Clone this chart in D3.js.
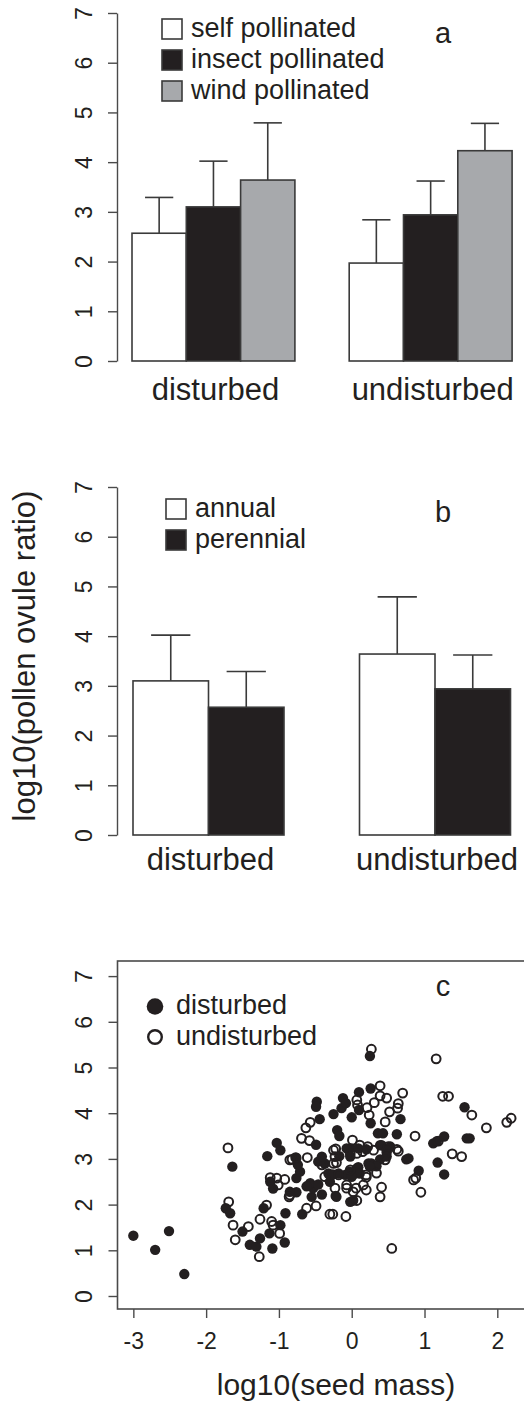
<!DOCTYPE html>
<html>
<head>
<meta charset="utf-8">
<script src="https://cdn.jsdelivr.net/npm/d3@7"></script>
<style>
  body { margin: 0; background: #fff; }
  svg { display: block; font-family: "Liberation Sans", Arial, Helvetica, sans-serif; }
  .axis path, .axis line { stroke: #4a4a4a; stroke-width: 1.4; }
  .axis text { fill: #231f20; font-size: 23px; font-family: "Liberation Sans", Arial, sans-serif; }
</style>
</head>
<body>
<div id="chart"></div>
<script>
// data
var groups = ["disturbed", "undisturbed"]
var pollSeries = ["self pollinated", "insect pollinated", "wind pollinated"]
var pollColors = ["#ffffff", "#231f20", "#a7a9ac"]
var pollMeans = [[2.57, 3.10, 3.64], [1.97, 2.94, 4.23]]
var pollUpper = [[3.29, 4.02, 4.79], [2.84, 3.62, 4.78]]

var lifeSeries = ["annual", "perennial"]
var lifeColors = ["#ffffff", "#231f20"]
var lifeMeans = [[3.10, 2.57], [3.64, 2.94]]
var lifeUpper = [[4.02, 3.29], [4.79, 3.62]]

var yTicks = [0, 1, 2, 3, 4, 5, 6, 7]
var seedTicks = [-3, -2, -1, 0, 1, 2]

var disturbedPts = [
  [-3.00,1.32],[-2.70,1.01],[-2.51,1.42],[-2.30,0.48],
  [-1.64,2.83],[-1.73,1.92],[-1.67,1.81],[-1.50,1.41],[-1.40,1.12],[-1.31,1.08],[-1.26,1.26],
  [-1.21,1.92],[-1.13,1.37],[-1.09,1.04],[-0.98,1.55],[-0.92,1.17],[-0.91,1.81],[-0.68,1.79],
  [-1.16,3.06],[-1.03,3.35],[-0.98,3.19],[-1.12,2.50],[-1.08,2.35],
  [-0.85,2.28],[-0.76,2.27],[-0.76,2.58],[-0.71,2.72],[-0.74,2.87],[-0.76,3.02],
  [-0.41,2.22],[-0.55,2.17],[-0.53,2.36],[-0.57,2.47],[-0.46,2.44],[-0.30,2.50],[-0.32,2.68],
  [-0.26,2.66],[-0.22,2.19],[-0.02,2.06],[0.02,2.09],[-0.01,2.65],[0.04,2.68],[-0.03,2.72],
  [0.09,2.82],[0.39,2.99],[0.48,3.14],[0.27,2.90],[0.34,2.84],[0.23,2.90],
  [0.75,2.99],[0.92,2.74],[1.18,2.92],[1.27,2.66],
  [0.25,5.25],[0.26,4.54],[0.10,4.46],[-0.12,4.33],[-0.14,4.11],[-0.48,4.25],[-0.49,4.14],
  [-0.44,3.87],[-0.25,3.98],[0.00,3.91],[0.10,4.07],[0.26,3.78],[0.67,3.87],[0.36,3.56],
  [0.43,3.56],[0.62,3.54],[-0.20,3.63],[-0.17,3.50],[-0.49,3.31],[0.39,3.30],[-0.02,3.23],
  [0.09,3.23],[-0.41,3.05],[-0.46,2.94],[-0.17,3.06],[1.12,3.34],[1.17,3.39],[1.27,3.49],
  [1.55,4.13],[1.58,3.45],[1.62,3.45],[0.78,3.01],[-0.08,4.22],
  [-0.07,3.23],[0.20,3.21],[0.41,3.30],[0.53,3.27],[0.48,3.19],[-0.02,3.05],[0.07,2.79],
  [0.25,2.83],[0.48,3.05],[-0.09,2.65],[0.11,2.68],[-0.37,2.90],[-0.18,2.68],
  [-0.62,2.40],[-0.21,2.17],[0.00,2.61]
]

var undisturbedPts = [
  [0.27,5.40],[1.16,5.19],[1.25,4.37],[1.33,4.37],[0.39,4.60],[0.70,4.44],[0.48,4.33],
  [0.39,4.38],[0.31,4.23],[0.07,4.29],[0.08,4.18],[0.64,4.21],[0.63,4.11],[0.52,4.03],
  [0.21,4.12],[0.24,3.96],[0.46,3.81],[1.65,3.96],[1.85,3.68],[2.13,3.80],[2.19,3.89],
  [-0.57,3.80],[-0.63,3.68],[-0.69,3.45],[-0.58,3.40],[0.87,3.50],[1.19,3.39],[0.01,3.41],
  [0.62,3.21],[0.50,3.27],[0.64,3.17],[1.38,3.11],[1.51,3.05],[-1.70,3.24],[-0.82,2.99],
  [-0.77,3.03],[-0.61,3.03],[-0.22,3.22],
  [0.11,3.30],[0.30,3.19],[0.22,3.27],[0.15,3.16],[0.07,3.12],[-0.02,3.11],[-0.02,2.76],
  [0.20,2.65],[0.34,2.69],[-0.25,3.19],[-0.23,3.05],[-0.21,2.92],[0.46,2.98],[-0.41,2.87],
  [-1.12,2.59],[-0.85,2.98],[-0.18,2.65],[-0.37,2.61],[-0.25,2.90],[-0.85,2.21],
  [-1.03,2.58],[-0.92,2.55],[-1.01,2.43],
  [-1.69,2.06],[-1.63,1.55],[-1.60,1.23],[-1.42,1.52],[-1.27,0.86],[-1.26,1.68],[-1.08,1.55],
  [-1.10,1.63],[-0.99,1.37],[-1.17,1.99],[-0.62,1.92],[-0.49,1.97],[-0.30,1.79],[-0.26,1.79],
  [-0.08,1.74],[-0.86,2.17],
  [0.55,1.04],[0.95,2.27],[0.85,2.54],[0.88,2.58],[0.39,2.17],[0.41,2.38],[0.20,2.32],
  [0.20,2.60],[0.07,2.09],[0.02,2.28],[0.06,2.36],[-0.07,2.43],[0.16,2.43],[-0.07,2.36],
  [-0.23,2.36]
]

var ink = "#231f20"
var edge = "#3a3a3a"
var plainNum = function(d) { return String(d) }   // hyphen minus, no decimals

var svg = d3.select("#chart")
            .append("svg")
            .attr("width", 524)
            .attr("height", 1406)

svg.append("rect").attr("width", 524).attr("height", 1406).attr("fill", "#fff")

// grouped bar panel, bar positions in R barplot units (space 1 between groups)
function barPanel(opts) {
    var n = opts.series.length
    var x = d3.scaleLinear().domain(opts.xDomain).range(opts.xRange)
    var y = d3.scaleLinear().domain([0, 7]).range(opts.yRange)

    var rows = []
    opts.means.forEach(function(gm, g) {
        gm.forEach(function(v, i) {
            rows.push({ left: 1 + g * (n + 1) + i, mean: v, upper: opts.upper[g][i], color: opts.colors[i] })
        })
    })

    var g = svg.append("g")

    // error bars first so bar tops sit over the stem
    g.selectAll(".err")
        .data(rows)
        .enter()
        .append("line")
        .attr("x1", function(d) { return x(d.left + 0.5) })
        .attr("x2", function(d) { return x(d.left + 0.5) })
        .attr("y1", function(d) { return y(d.mean) })
        .attr("y2", function(d) { return y(d.upper) })
        .attr("stroke", edge).attr("stroke-width", 1.6)

    g.selectAll(".cap")
        .data(rows)
        .enter()
        .append("line")
        .attr("x1", function(d) { return x(d.left + 0.5 - 0.26) })
        .attr("x2", function(d) { return x(d.left + 0.5 + 0.26) })
        .attr("y1", function(d) { return y(d.upper) })
        .attr("y2", function(d) { return y(d.upper) })
        .attr("stroke", edge).attr("stroke-width", 1.6)

    g.selectAll(".bar")
        .data(rows)
        .enter()
        .append("rect")
        .attr("x", function(d) { return x(d.left) })
        .attr("y", function(d) { return y(d.mean) })
        .attr("width", function(d) { return x(d.left + 1) - x(d.left) })
        .attr("height", function(d) { return y(0) - y(d.mean) })
        .attr("fill", function(d) { return d.color })
        .attr("stroke", edge).attr("stroke-width", 1.6)

    var ax = g.append("g")
        .attr("class", "axis")
        .attr("transform", "translate(117,0)")
        .call(d3.axisLeft(y).tickValues(yTicks).tickFormat(plainNum).tickSize(9).tickSizeOuter(0))
    ax.selectAll("text")
        .attr("transform", "rotate(-90)")
        .attr("x", 0).attr("y", -25).attr("dy", 0)
        .style("text-anchor", "middle")

    // group labels
    g.selectAll(".grp")
        .data(groups)
        .enter()
        .append("text")
        .attr("x", function(d, i) { return x(1 + i * (n + 1) + n / 2) + 2 })
        .attr("y", opts.labelY)
        .attr("text-anchor", "middle")
        .attr("font-size", 31)
        .attr("fill", ink)
        .text(function(d) { return d })

    // legend
    var lg = g.selectAll(".leg")
        .data(opts.series)
        .enter()
        .append("g")
        .attr("transform", function(d, i) { return "translate(" + opts.legX + "," + (opts.legY + i * 31) + ")" })
    lg.append("rect")
        .attr("x", 0).attr("y", 0).attr("width", 20).attr("height", 20)
        .attr("fill", function(d, i) { return opts.colors[i] })
        .attr("stroke", edge).attr("stroke-width", 1.6)
    lg.append("text")
        .attr("x", 29).attr("y", 18)
        .attr("font-size", 27)
        .attr("fill", ink)
        .text(function(d) { return d })

    g.append("text")
        .attr("x", 443).attr("y", opts.tagY)
        .attr("text-anchor", "middle")
        .attr("font-size", 29)
        .attr("fill", ink)
        .text(opts.tag)
}

barPanel({
    series: pollSeries, colors: pollColors, means: pollMeans, upper: pollUpper,
    xDomain: [0.72, 8.28], xRange: [116.8, 527.3], yRange: [361, 13],
    labelY: 400, legX: 162, legY: 19, tagY: 43, tag: "a"
})

barPanel({
    series: lifeSeries, colors: lifeColors, means: lifeMeans, upper: lifeUpper,
    xDomain: [0.8, 6.2], xRange: [117.9, 525.6], yRange: [835, 487],
    labelY: 870, legX: 166, legY: 499, tagY: 522, tag: "b"
})

svg.append("text")
    .attr("transform", "translate(35,656) rotate(-90)")
    .attr("text-anchor", "middle")
    .attr("font-size", 31)
    .attr("fill", ink)
    .text("log10(pollen ovule ratio)")

// scatter panel
var xC = d3.scaleLinear().domain([-3.208, 2.408]).range([118.2, 527])
var yC = d3.scaleLinear().domain([-0.28, 7.28]).range([1308.8, 963.3])

var c = svg.append("g")

c.selectAll(".dis")
    .data(disturbedPts)
    .enter()
    .append("circle")
    .attr("cx", function(d) { return xC(d[0]) })
    .attr("cy", function(d) { return yC(d[1]) })
    .attr("r", 5.2)
    .attr("fill", ink)

c.selectAll(".und")
    .data(undisturbedPts)
    .enter()
    .append("circle")
    .attr("cx", function(d) { return xC(d[0]) })
    .attr("cy", function(d) { return yC(d[1]) })
    .attr("r", 4.4)
    .attr("fill", "none")
    .attr("stroke", ink)
    .attr("stroke-width", 2)

var ay = c.append("g")
    .attr("class", "axis")
    .attr("transform", "translate(117.5,0)")
    .call(d3.axisLeft(yC).tickValues(yTicks).tickFormat(plainNum).tickSize(9).tickSizeOuter(0))
ay.select(".domain").remove()
ay.selectAll("text")
    .attr("transform", "rotate(-90)")
    .attr("x", 0).attr("y", -25.5).attr("dy", 0)
    .style("text-anchor", "middle")

var axC = c.append("g")
    .attr("class", "axis")
    .attr("transform", "translate(0,1309)")
    .call(d3.axisBottom(xC).tickValues(seedTicks).tickFormat(plainNum).tickSize(9).tickSizeOuter(0))
axC.select(".domain").remove()
axC.selectAll("text").attr("y", 40).attr("dy", 0)

c.append("rect")
    .attr("x", 117.5).attr("y", 961)
    .attr("width", 430).attr("height", 348)
    .attr("fill", "none")
    .attr("stroke", "#4a4a4a").attr("stroke-width", 1.6)

c.append("circle").attr("cx", 155).attr("cy", 1006.5).attr("r", 8.3).attr("fill", ink)
c.append("circle").attr("cx", 155).attr("cy", 1037).attr("r", 6.8)
    .attr("fill", "none").attr("stroke", ink).attr("stroke-width", 2.4)
c.append("text").attr("x", 176).attr("y", 1013.5).attr("font-size", 27).attr("fill", ink).text("disturbed")
c.append("text").attr("x", 176).attr("y", 1045).attr("font-size", 27).attr("fill", ink).text("undisturbed")
c.append("text").attr("x", 443).attr("y", 996).attr("text-anchor", "middle")
    .attr("font-size", 29).attr("fill", ink).text("c")

svg.append("text")
    .attr("x", 336).attr("y", 1395)
    .attr("text-anchor", "middle")
    .attr("font-size", 30)
    .attr("fill", ink)
    .text("log10(seed mass)")
</script>
</body>
</html>
